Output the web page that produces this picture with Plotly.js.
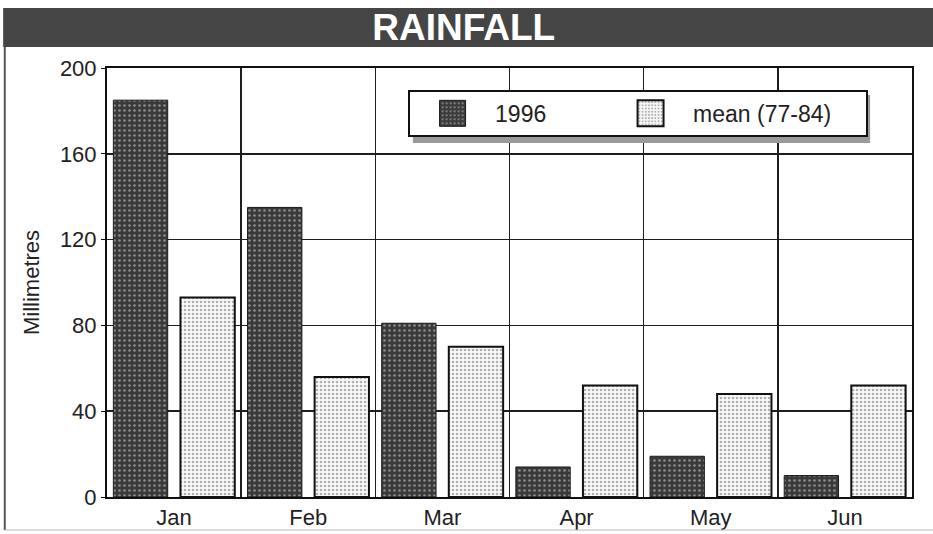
<!DOCTYPE html>
<html>
<head>
<meta charset="utf-8">
<script src="https://cdn.plot.ly/plotly-3.0.1.min.js"></script>
<style>html,body{margin:0;padding:0;background:#fff;}#chart{width:933px;height:534px;}</style>
</head>
<body>
<div id="chart"></div>
<script>
const months = ['Jan', 'Feb', 'Mar', 'Apr', 'May', 'Jun'];
const rain1996 = [185, 135, 81, 14, 19, 10];
const rainMean = [93, 56, 70, 52, 48, 52];
const yTicks = [0, 40, 80, 120, 160, 200];

const xIdx = months.map((m, i) => i);
const FONT = 'Liberation Sans, Arial, sans-serif';

const traces = [
  {
    type: 'bar', name: '1996', x: xIdx, y: rain1996, legendwidth: 108,
    marker: {
      color: '#3c3c3c',
      line: {color: '#1a1a1a', width: 1},
      pattern: {shape: '.', fgcolor: '#8c8c8c', bgcolor: '#3a3a3a', size: 5, solidity: 0.22}
    }
  },
  {
    type: 'bar', name: 'mean (77-84)', x: xIdx, y: rainMean, legendwidth: 168,
    marker: {
      color: '#f4f4f4',
      line: {color: '#111', width: 2},
      pattern: {shape: '.', fgcolor: '#b0b0b0', bgcolor: '#fafafa', size: 4, solidity: 0.35}
    }
  }
];

const layout = {
  width: 933, height: 534,
  margin: {l: 107, r: 21, t: 68, b: 37},
  paper_bgcolor: '#fff', plot_bgcolor: '#fff',
  font: {family: FONT, color: '#222', size: 22},
  title: {
    text: '<b>RAINFALL</b>',
    font: {family: FONT, size: 37, color: '#fff'},
    x: 0.497, xref: 'container', xanchor: 'center',
    y: 0.9485, yref: 'container', yanchor: 'middle'
  },
  barmode: 'group', bargap: 0, bargroupgap: 0.19,
  showlegend: true,
  legend: {
    orientation: 'h', x: 0.374, y: 0.949, xanchor: 'left', yanchor: 'top',
    bgcolor: '#fff', bordercolor: '#111', borderwidth: 2,
    font: {family: FONT, size: 23, color: '#222'},
    entrywidthmode: 'pixels', itemwidth: 75
  },
  xaxis: {
    type: 'linear', range: [-0.5, 5.5],
    tickmode: 'array', tickvals: xIdx, ticktext: months,
    showgrid: false, zeroline: false,
    showline: true, mirror: true, linecolor: '#111', linewidth: 2,
    ticks: '', tickfont: {family: FONT, size: 22, color: '#222'},
    minor: {tickmode: 'linear', tick0: -0.5, dtick: 1, showgrid: true, gridcolor: '#1e1e1e', gridwidth: 1.6, ticks: ''}
  },
  yaxis: {
    range: [0, 200], tickmode: 'array', tickvals: yTicks,
    showgrid: true, gridcolor: '#1e1e1e', gridwidth: 1.6, zeroline: false,
    showline: true, mirror: true, linecolor: '#111', linewidth: 2,
    ticks: 'outside', ticklen: 4, tickcolor: '#111',
    tickfont: {family: FONT, size: 22, color: '#222'},
    title: {text: 'Millimetres', font: {family: FONT, size: 22, color: '#222'}, standoff: 14}
  },
  shapes: [
    {type: 'rect', xref: 'paper', yref: 'paper', x0: -0.129, x1: 1.03, y0: 1.049, y1: 1.14,
     fillcolor: '#454545', line: {width: 0}, layer: 'above'},
    {type: 'line', xref: 'paper', yref: 'paper', x0: -0.127, x1: -0.127, y0: 1.049, y1: -0.077,
     line: {color: '#555', width: 2}},
    {type: 'line', xref: 'paper', yref: 'paper', x0: -0.127, x1: 1.03, y0: -0.077, y1: -0.077,
     line: {color: '#bbb', width: 1}},
    {type: 'rect', xref: 'paper', yref: 'paper', x0: 0.38, x1: 0.948, y0: 0.825, y1: 0.937,
     fillcolor: '#9a9a9a', line: {width: 0}, layer: 'above'}
  ]
};

Plotly.newPlot('chart', traces, layout, {displayModeBar: false, staticPlot: true}).then(function () {
  document.querySelectorAll('#chart g.legendpoints path').forEach(function (p) {
    p.setAttribute('d', 'M13,13H-13V-13H13Z');
  });
});
</script>
</body>
</html>
